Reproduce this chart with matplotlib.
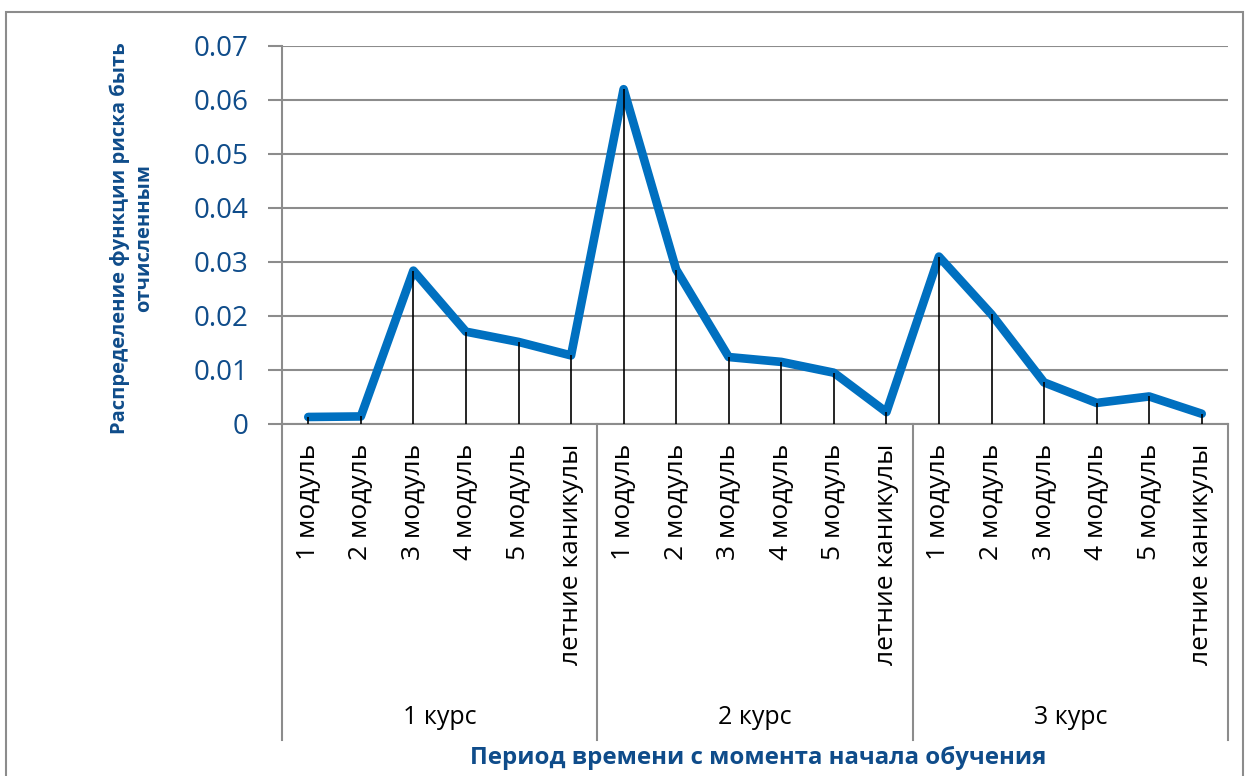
import numpy as np
import matplotlib
matplotlib.use('Agg')
import matplotlib.pyplot as plt
import matplotlib.transforms as mtransforms

plt.rcParams['font.family'] = ['Open Sans', 'DejaVu Sans']

periods = ['1 модуль', '2 модуль', '3 модуль', '4 модуль', '5 модуль', 'летние каникулы']
courses = ['1 курс', '2 курс', '3 курс']
hazard = [0.0013, 0.0014, 0.0284, 0.0171, 0.0152, 0.0127,
          0.0620, 0.0286, 0.0124, 0.0115, 0.0095, 0.0022,
          0.0310, 0.0203, 0.0077, 0.0039, 0.0051, 0.0019]
yticks = [0, 0.01, 0.02, 0.03, 0.04, 0.05, 0.06, 0.07]
ytick_labels = ['0', '0.01', '0.02', '0.03', '0.04', '0.05', '0.06', '0.07']

blue = '#0070C0'
navy = '#0F4C8A'
grey = '#8C8C8C'

W, H = 1246, 776
fig = plt.figure(figsize=(W / 100, H / 100), dpi=100)
ax = fig.add_axes([282 / W, (H - 424) / H, (1228 - 282) / W, (424 - 46) / H])

x = np.arange(len(hazard))
ax.plot(x, hazard, color=blue, lw=6.2, solid_capstyle='round', solid_joinstyle='round', zorder=3)
ax.vlines(x, 0, hazard, color='black', lw=1.2, zorder=4)

ax.set_xlim(-0.5, len(hazard) - 0.5)
ax.set_ylim(0, 0.07)
ax.set_yticks(yticks)
ax.set_yticklabels(ytick_labels, fontsize=20, color=navy)
ax.tick_params(axis='y', length=10, width=1.5, color=grey, pad=14)
ax.set_xticks([])
ax.grid(axis='y', color=grey, lw=1.5)
ax.set_axisbelow(True)
for s in ['top', 'right']:
    ax.spines[s].set_visible(False)
ax.spines['left'].set_color(grey)
ax.spines['left'].set_linewidth(1.5)
ax.spines['bottom'].set_color(grey)
ax.spines['bottom'].set_linewidth(1.5)

trans = mtransforms.blended_transform_factory(ax.transData, ax.transAxes)
px = 1 / 378.0  # one pixel in axes units (vertical)

# category labels
for i in range(len(hazard)):
    ax.text(i, -20 * px, periods[i % len(periods)], transform=trans, rotation=90,
            ha='center', va='top', fontsize=19, color='black')

# group separators and labels
n = len(periods)
for g in range(len(courses) + 1):
    b = g * n - 0.5
    ax.plot([b, b], [0, -316 * px], transform=trans, color=grey, lw=1.5, clip_on=False)
for g, c in enumerate(courses):
    ax.text(g * n + (n - 1) / 2, -294 * px, c, transform=trans, ha='center', va='center',
            fontsize=18, color='black')

fig.text(758 / W, 1 - 758 / H, 'Период времени с момента начала обучения', ha='center', va='center',
         fontsize=17.3, fontweight='bold', color=navy)
fig.text(132 / W, 1 - 238 / H, 'Распределение функции риска быть\nотчисленным', ha='center', va='center',
         rotation=90, fontsize=14.5, fontweight='bold', color=navy, linespacing=1.3)

# chart border
fig.add_artist(plt.Rectangle((6 / W, -0.01), (1243 - 6) / W, 1 - 12 / H + 0.01, transform=fig.transFigure,
                             fill=False, edgecolor=grey, lw=1.5))

fig.savefig('out.png', dpi=100)
